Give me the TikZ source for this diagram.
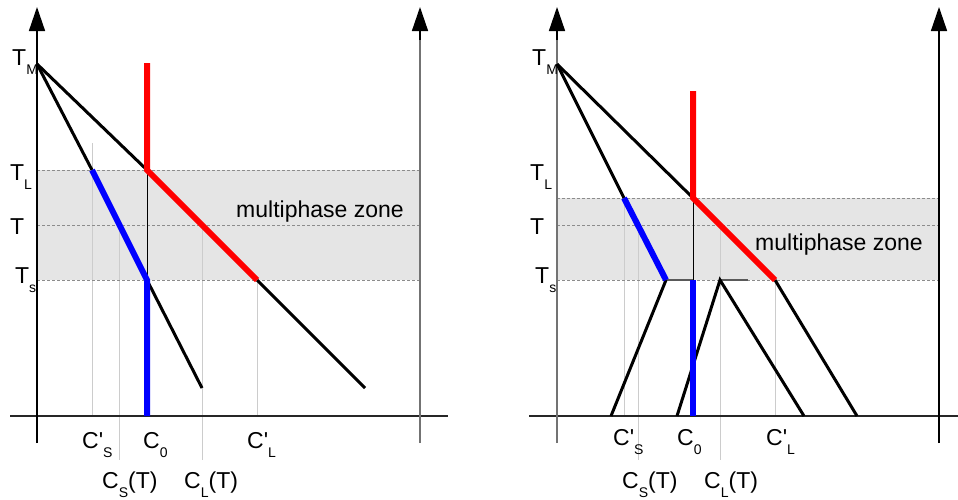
\documentclass[tikz,border=0pt]{standalone}
\usepackage{fontspec}
\setmainfont{Liberation Sans}
\usetikzlibrary{arrows.meta}
\newcommand\sbx[1]{\raisebox{-9.5pt}{\fontsize{14}{14}\selectfont #1}}
\newcommand\prm{\textquotesingle}
\begin{document}
\begin{tikzpicture}[x=1pt,y=-1pt,
  lab/.style={font=\fontsize{23}{23}\selectfont, inner sep=0pt, anchor=base west},
  axisblk/.style={line width=1.5pt, black, -{Triangle[width=16pt,length=24pt]}},
  axisgry/.style={line width=1.5pt, black!55, -{Triangle[width=16pt,length=24pt,fill=black,draw=black]}},
  baseaxis/.style={line width=1.5pt, black!85},
  vaxisblk/.style={line width=1.5pt, black},
  vaxisgry/.style={line width=1.5pt, black!55},
  phase/.style={line width=3pt, black, line join=round},
  hot/.style={line width=6pt, red},
  cold/.style={line width=6pt, blue},
  guide/.style={line width=1pt, black!20},
  dashln/.style={line width=1pt, black!45, dash pattern=on 3pt off 2pt},
  zone/.style={fill=black!10, draw=none},
  thinblk/.style={line width=1pt, black},
  tie/.style={line width=1.5pt, black!65}
]
\useasboundingbox (0,0) rectangle (958,499);

% ================= LEFT PANEL =================
\fill[zone] (37,170) rectangle (420,280);
% guides
\draw[guide] (92,143) -- (92,416);
\draw[guide] (119,225) -- (119,460);
\draw[guide] (202,225) -- (202,460);
\draw[guide] (257,280) -- (257,416);
% dashed temperature lines
\draw[dashln] (37,170) -- (420,170);
\draw[dashln] (37,225) -- (420,225);
\draw[dashln] (37,280) -- (420,280);
% axes
\coordinate (LaxB) at (37,443);   \coordinate (LaxT) at (37,7);
\coordinate (RaxB) at (420,443);  \coordinate (RaxT) at (420,7);
\coordinate (HaxL) at (10,416);   \coordinate (HaxR) at (448,416);
\draw[baseaxis] (HaxL) -- (HaxR);
\draw[vaxisblk] (LaxB) -- (37,30);
\draw[axisblk] (37,40) -- (LaxT);
\draw[vaxisgry] (RaxB) -- (420,30);
\draw[axisblk] (420,40) -- (RaxT);
% key points
\coordinate (TM) at (37,64);
\coordinate (LL) at (147,170);
\coordinate (LS) at (257,280);
\coordinate (LE) at (365,388);
\coordinate (SL) at (92,170);
\coordinate (SS) at (147,280);
\coordinate (SE) at (202,388);
\coordinate (Rtop) at (147,63);
\coordinate (Bbot) at (147,416);
% thin connector
\draw[thinblk] (LL) -- (SS);
% liquidus
\draw[phase] (TM) -- (LL);
\draw[phase] (LS) -- (LE);
% solidus
\draw[phase] (TM) -- (SL);
\draw[phase] (SS) -- (SE);
\draw[hot] (Rtop) -- (LL) -- (LS);
\draw[cold] (SL) -- (SS) -- (Bbot);
% labels
\node[lab] (lTM) at (12,65) {T\sbx{M}};
\node[lab] (lTL) at (10,180) {T\sbx{L}};
\node[lab] (lT)  at (10,234) {T};
\node[lab] (lTs) at (15,283) {T\sbx{s}};
\node[lab] (lzone) at (236,217) {multiphase zone};
\node[lab] (lCpS) at (82,448) {C\prm\sbx{S}};
\node[lab] (lC0) at (143,448) {C\sbx{0}};
\node[lab] (lCpL) at (247,448) {C\prm\sbx{L}};
\node[lab] (lCST) at (102,488) {C\sbx{S}(T)};
\node[lab] (lCLT) at (184,488) {C\sbx{L}(T)};

% ================= RIGHT PANEL =================
\fill[zone] (557,198) rectangle (939,280);
\draw[guide] (624,198) -- (624,416);
\draw[guide] (638,225) -- (638,460);
\draw[guide] (720,225) -- (720,460);
\draw[guide] (775,280) -- (775,416);
\draw[dashln] (557,198) -- (939,198);
\draw[dashln] (557,225) -- (939,225);
\draw[dashln] (557,280) -- (939,280);
\coordinate (LaxB2) at (557,443);  \coordinate (LaxT2) at (557,7);
\coordinate (RaxB2) at (939,443);  \coordinate (RaxT2) at (939,7);
\coordinate (HaxL2) at (529,416);  \coordinate (HaxR2) at (958,416);
\draw[baseaxis] (HaxL2) -- (HaxR2);
\draw[vaxisgry] (LaxB2) -- (557,30);
\draw[axisblk] (557,40) -- (LaxT2);
\draw[vaxisblk] (RaxB2) -- (939,30);
\draw[axisblk] (939,40) -- (RaxT2);
\coordinate (TM2) at (557,64);
\coordinate (LL2) at (693,198);
\coordinate (LS2) at (775,280);
\coordinate (LE2) at (857,416);
\coordinate (SL2) at (624,198);
\coordinate (SS2) at (666,280);
\coordinate (SE2) at (611,416);
\coordinate (C0s) at (693,280);
\coordinate (Rtop2) at (693,91);
\coordinate (Bbot2) at (693,416);
\coordinate (Pk) at (720,280);
\coordinate (PkL) at (677,416);
\coordinate (PkR) at (804,416);
\coordinate (PkT) at (748,280);
\draw[thinblk] (LL2) -- (C0s);
\draw[tie] (SS2) -- (C0s);
\draw[tie] (Pk) -- (PkT);
\draw[phase] (TM2) -- (LL2);
\draw[phase] (LS2) -- (LE2);
\draw[phase] (TM2) -- (SL2);
\draw[phase] (SS2) -- (SE2);
\draw[phase, line join=miter] (PkL) -- (Pk) -- (PkR);
\draw[hot] (Rtop2) -- (LL2) -- (LS2);
\draw[cold] (SL2) -- (SS2);
\draw[cold] (C0s) -- (Bbot2);
\node[lab] (rTM) at (532,65) {T\sbx{M}};
\node[lab] (rTL) at (530,180) {T\sbx{L}};
\node[lab] (rT)  at (530,234) {T};
\node[lab] (rTs) at (535,283) {T\sbx{s}};
\node[lab] (rzone) at (755,250) {multiphase zone};
\node[lab] (rCpS) at (613,445) {C\prm\sbx{S}};
\node[lab] (rC0) at (677,445) {C\sbx{0}};
\node[lab] (rCpL) at (766,445) {C\prm\sbx{L}};
\node[lab] (rCST) at (622,488) {C\sbx{S}(T)};
\node[lab] (rCLT) at (704,488) {C\sbx{L}(T)};
\end{tikzpicture}
\end{document}
